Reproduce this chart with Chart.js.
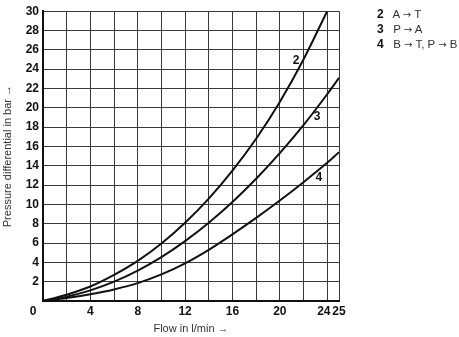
<!DOCTYPE html>
<html>
<head>
    <title>Pressure differential</title>
    <script src="https://cdn.jsdelivr.net/npm/chart.js@4.4.1/dist/chart.umd.min.js"></script>
    <style>
        body {
            margin: 0;
            padding: 0;
            background: #ffffff;
            font-family: "Liberation Sans", Arial, sans-serif;
        }
        #wrap {
            position: relative;
            width: 459px;
            height: 337px;
        }
        #legendBox {
            position: absolute;
            left: 377px;
            top: 7px;
            font-size: 11.5px;
            line-height: 14px;
            color: #333;
            white-space: nowrap;
        }
        #legendBox b {
            color: #111;
            display: inline-block;
            width: 13px;
            font-size: 12px;
        }
        .arr {
            font-family: "DejaVu Sans", sans-serif;
            font-size: 10px;
        }
    </style>
</head>
<body>
<div id="wrap">
    <canvas id="chart" width="459" height="337"></canvas>
    <div id="legendBox">
        <div><b>2</b> A <span class="arr">→</span> T</div>
        <div><b>3</b> P <span class="arr">→</span> A</div>
        <div><b>4</b> B <span class="arr">→</span> T, P <span class="arr">→</span> B</div>
    </div>
</div>

<script>
// flow in l/min
var flow2 = [0, 2, 4, 6, 8, 10, 12, 14, 16, 18, 20, 22, 24];
var flow34 = [0, 2, 4, 6, 8, 10, 12, 14, 16, 18, 20, 22, 24, 25];

// pressure differential in bar
var curve2 = [0, 0.65, 1.5, 2.7, 4.15, 5.95, 8.1, 10.6, 13.5, 16.8, 20.6, 25.0, 30];
var curve3 = [0, 0.45, 1.1, 2.0, 3.15, 4.55, 6.2, 8.1, 10.25, 12.65, 15.3, 18.2, 21.4, 23.1];
var curve4 = [0, 0.3, 0.7, 1.2, 1.85, 2.75, 3.9, 5.3, 6.9, 8.6, 10.4, 12.3, 14.3, 15.4];

var xTicks = [0, 2, 4, 6, 8, 10, 12, 14, 16, 18, 20, 22, 24, 25];
var xLabels = ['', '', '4', '', '8', '', '12', '', '16', '', '20', '', '24  ', '25'];

// curve numbers placed next to the lines (data coords)
var curveNames = ['2', '3', '4'];
var nameX = [21.37, 23.14, 23.3];
var nameY = [24.9, 19.1, 12.75];

function toPoints(xs, ys) {
    return xs.map(function (x, i) { return { x: x, y: ys[i] }; });
}

var tickFont = { family: '"Liberation Sans", Arial, sans-serif', size: 12, weight: 'bold' };

// draws the curve numbers and the shared "0" in the corner
var curveNumbers = {
    id: 'curveNumbers',
    afterDraw: function (chart) {
        var ctx = chart.ctx;
        var xs = chart.scales.x, ys = chart.scales.y;
        ctx.save();
        ctx.fillStyle = '#111';
        ctx.font = 'bold 12px "Liberation Sans", Arial, sans-serif';
        ctx.textAlign = 'center';
        ctx.textBaseline = 'middle';
        for (var i = 0; i < curveNames.length; i++) {
            ctx.fillText(curveNames[i], xs.getPixelForValue(nameX[i]), ys.getPixelForValue(nameY[i]));
        }
        ctx.fillText('0', xs.getPixelForValue(0) - 10, ys.getPixelForValue(0) + 11);
        ctx.restore();
    }
};

var lineStyle = {
    borderColor: '#111',
    borderWidth: 2,
    pointRadius: 0,
    fill: false,
    cubicInterpolationMode: 'monotone'
};

new Chart(document.getElementById('chart').getContext('2d'), {
    type: 'line',
    data: {
        datasets: [
            Object.assign({ label: '2', data: toPoints(flow2, curve2) }, lineStyle),
            Object.assign({ label: '3', data: toPoints(flow34, curve3) }, lineStyle),
            Object.assign({ label: '4', data: toPoints(flow34, curve4) }, lineStyle)
        ]
    },
    options: {
        responsive: false,
        animation: false,
        layout: { padding: { top: 7, right: 120, left: 0, bottom: 0 } },
        plugins: {
            legend: { display: false },
            tooltip: { enabled: false }
        },
        scales: {
            x: {
                type: 'linear',
                min: 0,
                max: 25,
                afterBuildTicks: function (scale) {
                    scale.ticks = xTicks.map(function (v) { return { value: v }; });
                },
                afterFit: function (scale) { scale.height = 36; },
                ticks: {
                    autoSkip: false,
                    maxRotation: 0,
                    padding: 3,
                    color: '#111',
                    font: tickFont,
                    callback: function (value) {
                        var i = xTicks.indexOf(value);
                        return i >= 0 ? xLabels[i] : '';
                    }
                },
                grid: { color: '#3a3a3a', lineWidth: 1, drawTicks: false },
                border: { color: '#111', width: 2 },
                title: {
                    display: true,
                    text: 'Flow in l/min →',
                    color: '#333',
                    font: { family: '"Liberation Sans", Arial, sans-serif', size: 11 },
                    padding: { top: 0, bottom: 1 }
                }
            },
            y: {
                min: 0,
                max: 30,
                afterFit: function (scale) { scale.width = 43; },
                ticks: {
                    stepSize: 2,
                    padding: 4,
                    color: '#111',
                    font: tickFont,
                    callback: function (value) { return value === 0 ? '' : value; }
                },
                grid: { color: '#3a3a3a', lineWidth: 1, drawTicks: false },
                border: { color: '#111', width: 2 },
                title: {
                    display: true,
                    text: 'Pressure differential in bar →',
                    color: '#333',
                    font: { family: '"Liberation Sans", Arial, sans-serif', size: 11 },
                    padding: { top: 1, bottom: 0 }
                }
            }
        }
    },
    plugins: [curveNumbers]
});
</script>
</body>
</html>
